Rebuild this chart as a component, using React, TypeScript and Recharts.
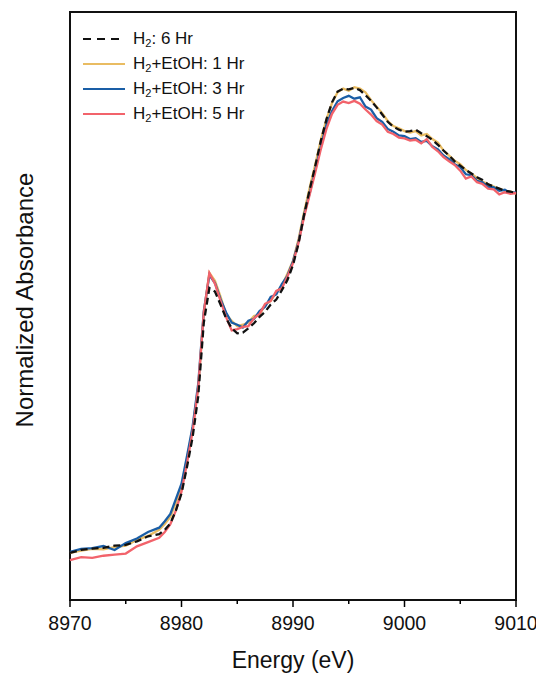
import React from "react";
import { LineChart, Line, XAxis, YAxis, Legend, ReferenceArea } from "recharts";

const energy = [
  8970, 8971, 8972, 8973, 8974, 8975, 8976, 8977, 8978,
  8978.5, 8979, 8979.5, 8980, 8980.5, 8981, 8981.5, 8982, 8982.5, 8983,
  8983.5, 8984, 8984.5, 8985, 8985.5, 8986, 8986.5, 8987, 8987.5, 8988,
  8988.5, 8989, 8989.5, 8990, 8990.5, 8991, 8991.5, 8992, 8992.5, 8993,
  8993.5, 8994, 8994.5, 8995, 8995.5, 8996, 8996.5, 8997, 8997.5, 8998,
  8998.5, 8999, 8999.5, 9000, 9000.5, 9001, 9001.5, 9002, 9002.5, 9003,
  9003.5, 9004, 9004.5, 9005, 9005.5, 9006, 9006.5, 9007, 9007.5, 9008,
  9008.5, 9009, 9009.5, 9010,
];

const h2_6hr = [
  0.0, 0.008, 0.012, 0.014, 0.02, 0.022, 0.032, 0.046, 0.052,
  0.064, 0.082, 0.118, 0.165, 0.24, 0.322, 0.435, 0.64, 0.736, 0.726,
  0.69, 0.652, 0.624, 0.61, 0.612, 0.624, 0.638, 0.656, 0.67, 0.69,
  0.704, 0.73, 0.758, 0.8, 0.86, 0.94, 1.01, 1.076, 1.145, 1.205,
  1.252, 1.282, 1.29, 1.288, 1.292, 1.286, 1.272, 1.256, 1.238, 1.218,
  1.198, 1.184, 1.176, 1.17, 1.172, 1.176, 1.166, 1.158, 1.148, 1.134,
  1.118, 1.104, 1.088, 1.076, 1.064, 1.054, 1.044, 1.036, 1.024, 1.018,
  1.012, 1.006, 1.004, 1.0,
];

const etoh_1hr = [
  0.0, 0.006, 0.011, 0.01, 0.016, 0.02, 0.036, 0.047, 0.064,
  0.08, 0.1, 0.14, 0.185, 0.262, 0.345, 0.462, 0.665, 0.778, 0.756,
  0.712, 0.662, 0.645, 0.63, 0.634, 0.64, 0.658, 0.662, 0.69, 0.7,
  0.724, 0.742, 0.776, 0.812, 0.872, 0.948, 1.015, 1.08, 1.148, 1.205,
  1.25, 1.28, 1.29, 1.284, 1.294, 1.29, 1.28, 1.258, 1.24, 1.222,
  1.2, 1.186, 1.18, 1.172, 1.168, 1.172, 1.16, 1.164, 1.15, 1.14,
  1.118, 1.104, 1.09, 1.08, 1.064, 1.054, 1.042, 1.032, 1.024, 1.018,
  1.012, 1.006, 1.004, 0.998,
];

const etoh_3hr = [
  0.003, 0.011, 0.013, 0.019, 0.008, 0.027, 0.04, 0.058, 0.07,
  0.088, 0.108, 0.15, 0.192, 0.27, 0.352, 0.47, 0.672, 0.772, 0.75,
  0.705, 0.668, 0.64, 0.634, 0.626, 0.645, 0.65, 0.672, 0.684, 0.711,
  0.718, 0.747, 0.77, 0.81, 0.866, 0.94, 1.0, 1.066, 1.13, 1.19,
  1.228, 1.255, 1.264, 1.27, 1.262, 1.266, 1.24, 1.232, 1.208, 1.198,
  1.178, 1.17, 1.16, 1.158, 1.15, 1.152, 1.142, 1.145, 1.13, 1.121,
  1.104, 1.094, 1.08, 1.072, 1.052, 1.05, 1.034, 1.03, 1.016, 1.016,
  1.006, 1.009, 1.0, 1.002,
];

const etoh_5hr = [
  -0.02, -0.012, -0.014, -0.008, -0.005, -0.002, 0.018, 0.03, 0.042,
  0.058, 0.08, 0.118, 0.17, 0.25, 0.338, 0.46, 0.668, 0.778, 0.748,
  0.7, 0.655, 0.618, 0.622, 0.628, 0.63, 0.652, 0.664, 0.692, 0.7,
  0.728, 0.735, 0.768, 0.805, 0.862, 0.935, 0.996, 1.058, 1.122, 1.178,
  1.22, 1.245, 1.254, 1.25, 1.256, 1.248, 1.232, 1.218, 1.2, 1.19,
  1.17, 1.164, 1.154, 1.152, 1.146, 1.148, 1.138, 1.15, 1.128, 1.116,
  1.1, 1.088, 1.078, 1.062, 1.04, 1.046, 1.03, 1.025, 1.012, 1.01,
  0.996, 1.002, 0.998, 1.0,
];

const xTicks = [8970, 8975, 8980, 8985, 8990, 8995, 9000, 9005, 9010];
const yDomain = [-0.131, 1.503];

const series = [
  { key: "yellow", label: "H2+EtOH: 1 Hr", color: "#E9BC62", dash: undefined },
  { key: "blue", label: "H2+EtOH: 3 Hr", color: "#1A5EA6", dash: undefined },
  { key: "red", label: "H2+EtOH: 5 Hr", color: "#F2636B", dash: undefined },
  { key: "black", label: "H2: 6 Hr", color: "#111111", dash: "7 4" },
];
const legendOrder = ["black", "yellow", "blue", "red"];

const data = energy.map((e, i) => ({
  e,
  black: h2_6hr[i],
  yellow: etoh_1hr[i],
  blue: etoh_3hr[i],
  red: etoh_5hr[i],
}));

const font = "'Liberation Sans', Arial, sans-serif";

const EnergyTick = (props: any) => {
  const { x, y, payload } = props;
  const major = payload.value % 10 === 0;
  return (
    <g>
      <line x1={x} x2={x} y1={y} y2={y + (major ? 7 : 4)} stroke="#000" strokeWidth={1.5} />
      {major && (
        <text x={x} y={y + 30} textAnchor="middle" fontSize={19.5} fontFamily={font} fill="#111">
          {payload.value}
        </text>
      )}
    </g>
  );
};

const withSub = (s: string) => {
  const rest = s.slice(2);
  return (
    <>
      H<sub style={{ fontSize: "0.65em", lineHeight: 0, verticalAlign: "-0.3em" }}>2</sub>
      {rest}
    </>
  );
};

const LegendBox = () => (
  <div style={{ fontFamily: font, fontSize: 17, color: "#111" }}>
    {legendOrder.map((k) => {
      const s = series.find((d) => d.key === k)!;
      return (
        <div key={k} style={{ display: "flex", alignItems: "center", height: 25 }}>
          <svg width={46} height={10} style={{ marginRight: 4 }}>
            <line x1={0} x2={42} y1={5} y2={5} stroke={s.color} strokeWidth={2.2} strokeDasharray={s.dash === undefined ? undefined : "8 6"} />
          </svg>
          <span>{withSub(s.label)}</span>
        </div>
      );
    })}
  </div>
);

export default function App() {
  return (
    <LineChart width={536} height={670} data={data} margin={{ top: 4, right: 28, bottom: 0, left: 0 }}>
      <XAxis
        dataKey="e"
        type="number"
        domain={[8970, 9010]}
        ticks={xTicks}
        interval={0}
        tickSize={0}
        tickMargin={0}
        tickLine={false}
        axisLine={false}
        tick={<EnergyTick />}
        height={78}
        label={{ value: "Energy (eV)", position: "insideBottom", offset: 10, fontSize: 23, fontFamily: font, fill: "#111" }}
      />
      <YAxis
        type="number"
        domain={yDomain}
        width={62}
        tick={false}
        tickLine={false}
        axisLine={false}
        label={{ value: "Normalized Absorbance", angle: -90, position: "center", dx: -15, dy: -6, fontSize: 24, fontFamily: font, fill: "#111" }}
      />
      <ReferenceArea x1={8970} x2={9010} y1={yDomain[0]} y2={yDomain[1]} fill="none" fillOpacity={0} stroke="#111" strokeWidth={2} strokeOpacity={1} />
      {series.map((s) => (
        <Line
          key={s.key}
          dataKey={s.key}
          type="linear"
          stroke={s.color}
          strokeWidth={2.3}
          strokeDasharray={s.dash}
          dot={false}
          isAnimationActive={false}
        />
      ))}
      <Legend
        layout="vertical"
        align="center"
        verticalAlign="middle"
        content={<LegendBox />}
        wrapperStyle={{ top: 18, left: 75, width: 200 }}
      />
    </LineChart>
  );
}
